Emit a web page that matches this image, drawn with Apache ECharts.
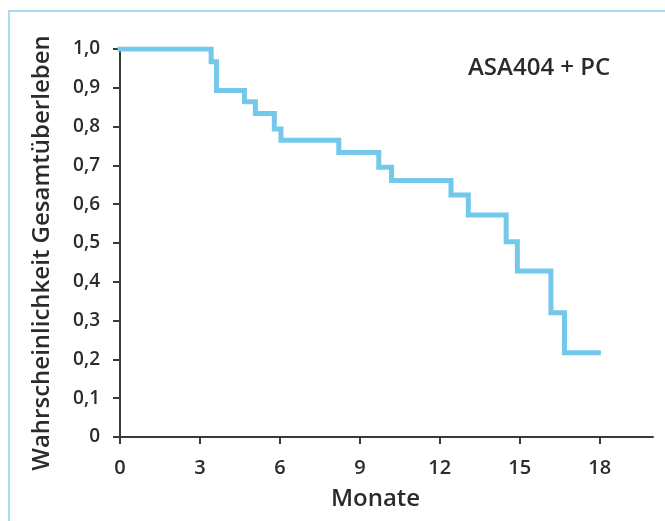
<!DOCTYPE html>
<html>
<head>
<meta charset="utf-8">
<script src="https://cdn.jsdelivr.net/npm/echarts@6/dist/echarts.min.js"></script>
<style>
  html, body { margin: 0; padding: 0; background: #fff; }
  #chart { width: 665px; height: 521px; }
</style>
</head>
<body>
<div id="chart"></div>
<script>
// Kaplan-Meier Stufen (Monate, Überlebenswahrscheinlichkeit nach dem Ereignis)
const months = [0, 3.42, 3.62, 4.67, 5.08, 5.79, 6.04, 8.21, 9.71, 10.19, 12.42, 13.07, 14.49, 14.91, 16.17, 16.68, 17.95];
const survival = [1.0, 0.967, 0.893, 0.864, 0.834, 0.794, 0.765, 0.733, 0.695, 0.661, 0.624, 0.572, 0.503, 0.428, 0.320, 0.217, 0.217];
const xTicks = [0, 3, 6, 9, 12, 15, 18];
const seriesName = 'ASA404 + PC';

const font = 'Open Sans';
const axisColor = '#3a3a3a';
const textColor = '#2b2b2b';

const chart = echarts.init(document.getElementById('chart'), null, { renderer: 'canvas' });

chart.setOption({
  animation: false,
  backgroundColor: '#fff',
  grid: { left: 120, right: 12, top: 49, bottom: 84, containLabel: false },
  xAxis: {
    type: 'value',
    min: 0,
    max: 20,
    name: 'Monate',
    nameLocation: 'middle',
    nameGap: 50,
    nameTextStyle: { fontFamily: font, fontSize: 24, fontWeight: 600, color: textColor, padding: [0, 22, 0, 0] },
    axisLine: { lineStyle: { color: axisColor, width: 2 } },
    axisTick: { show: true, length: 7, customValues: xTicks, lineStyle: { color: axisColor, width: 2 } },
    axisLabel: { customValues: xTicks, margin: 21, fontFamily: font, fontSize: 20, fontWeight: 600, color: textColor },
    splitLine: { show: false }
  },
  yAxis: {
    type: 'value',
    min: 0,
    max: 1,
    interval: 0.1,
    name: 'Wahrscheinlichkeit Gesamtüberleben',
    nameLocation: 'middle',
    nameGap: 66,
    nameRotate: 90,
    nameTextStyle: { fontFamily: font, fontSize: 24, fontWeight: 600, color: textColor, padding: [0, 20, 0, 0] },
    axisLine: { show: true, lineStyle: { color: axisColor, width: 2 } },
    axisTick: { show: true, length: 7, lineStyle: { color: axisColor, width: 2 } },
    axisLabel: {
      margin: 20,
      fontFamily: font,
      fontSize: 19,
      fontWeight: 600,
      color: textColor,
      formatter: v => v === 0 ? '0' : v.toFixed(1).replace('.', ',')
    },
    splitLine: { show: false }
  },
  series: [{
    name: seriesName,
    type: 'line',
    step: 'end',
    symbol: 'none',
    data: months.map((m, i) => [m, survival[i]]),
    lineStyle: { color: '#74c9eb', width: 5, cap: 'square', join: 'miter' }
  }],
  graphic: [
    {
      type: 'rect',
      shape: { x: 9, y: 11, width: 700, height: 560 },
      style: { fill: 'none', stroke: '#8cd3f0', lineWidth: 1.5 },
      silent: true
    },
    {
      type: 'text',
      x: 468,
      y: 68,
      style: { text: seriesName, font: '600 24px "Open Sans"', fill: textColor, verticalAlign: 'middle' }
    }
  ]
});
</script>
</body>
</html>
